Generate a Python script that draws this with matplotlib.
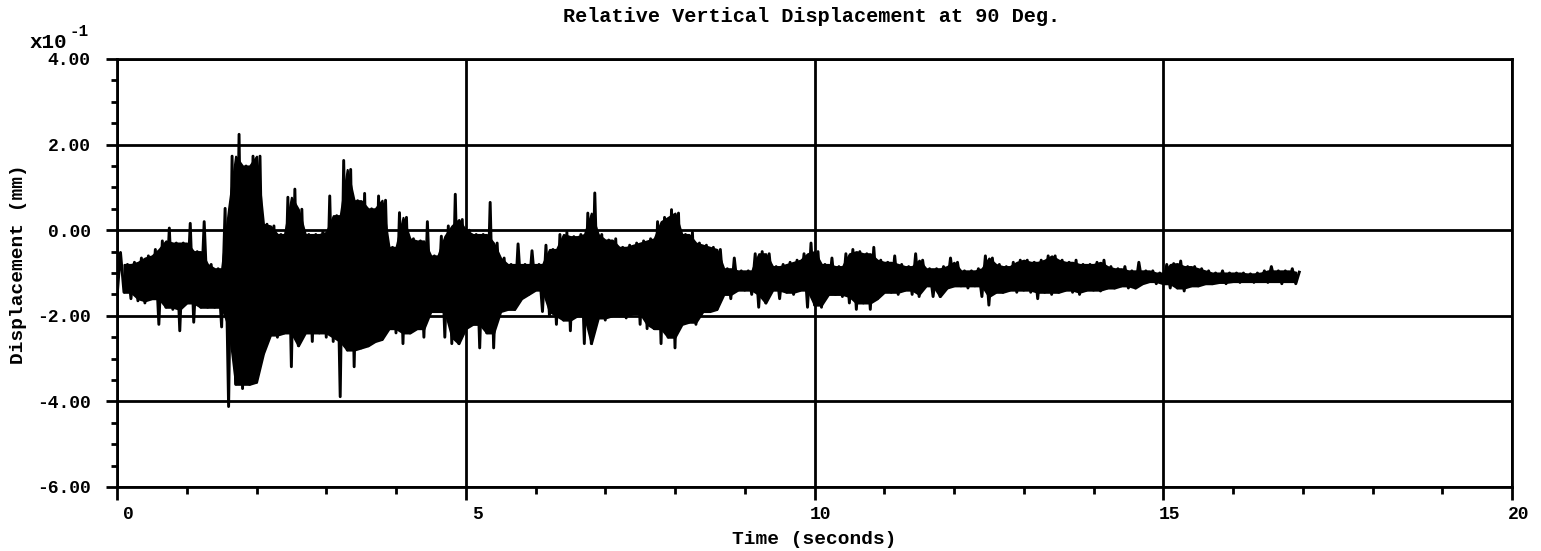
import numpy as np
import matplotlib
matplotlib.use("Agg")
import matplotlib.pyplot as plt
from matplotlib import transforms
from matplotlib.ticker import MultipleLocator, FormatStrFormatter

# ===== 字体与全局设置 =====
plt.rcParams.update({
    'font.family': ['Liberation Mono', 'DejaVu Sans Mono'],
    'font.weight': 'bold',
    'axes.unicode_minus': False,
})

# ===== 数据（读自原图，单位 x10^-1 mm）=====
# 每 0.1 s 一个窗口：trough 为窗口内最低值，peak 为窗口内最高值
dt = 0.1
peak = [
    -0.52, -0.80, -0.75, -0.65, -0.60, -0.45, -0.25, 0.05, -0.30, -0.30,   # 0 s
    0.16, -0.50, 0.20, -0.80, -0.90, 0.51, 1.73, 2.24, 1.50, 1.73,         # 1 s
    1.73, 0.14, 0.10, -0.10, 0.77, 0.96, 0.49, -0.10, -0.10, -0.05,        # 2 s
    0.80, 0.34, 1.63, 1.42, 0.69, 0.86, 0.50, 0.80, 0.70, -0.40,           # 3 s
    0.41, 0.30, -0.20, -0.25, 0.20, -0.60, -0.14, 0.10, 0.84, 0.25,        # 4 s
    0.00, -0.10, -0.10, 0.65, -0.30, -0.65, -0.80, -0.32, -0.80, -0.48,    # 5 s
    -0.80, -0.35, -0.45, -0.10, -0.05, -0.15, -0.10, 0.40, 0.87, -0.10,    # 6 s
    -0.23, -0.20, -0.40, -0.35, -0.30, -0.25, -0.20, 0.20, 0.30, 0.48,     # 7 s
    0.40, -0.10, -0.05, -0.30, -0.35, -0.40, -0.45, -0.90, -0.65, -0.95,   # 8 s
    -0.95, -0.55, -0.50, -0.55, -0.85, -0.80, -0.75, -0.70, -0.55, -0.30,  # 9 s
    -0.50, -0.80, -0.65, -0.85, -0.55, -0.45, -0.50, -0.55, -0.40, -0.70,  # 10 s
    -0.75, -0.60, -0.80, -0.85, -0.55, -0.70, -0.90, -0.90, -0.85, -0.65,  # 11 s
    -0.75, -0.95, -0.95, -0.90, -0.60, -0.65, -0.80, -0.85, -0.75, -0.70,  # 12 s
    -0.70, -0.75, -0.70, -0.60, -0.60, -0.70, -0.75, -0.70, -0.80, -0.80,  # 13 s
    -0.75, -0.70, -0.85, -0.90, -0.85, -0.95, -0.75, -0.95, -0.95, -1.00,  # 14 s
    -0.80, -0.78, -0.72, -0.85, -0.85, -0.90, -0.95, -1.00, -0.95, -1.00,  # 15 s
    -1.00, -1.00, -1.02, -1.00, -0.95, -0.85, -0.95, -0.95, -0.90, -0.98,  # 16 s
]
trough = [
    -1.56, -1.45, -1.60, -1.65, -1.70, -1.60, -2.20, -1.80, -1.85, -2.35,  # 0 s
    -1.70, -2.15, -1.80, -1.80, -1.80, -2.26, -4.12, -3.60, -3.70, -3.60,  # 1 s
    -3.55, -2.88, -2.45, -2.50, -2.40, -3.19, -2.70, -2.40, -2.60, -2.40,  # 2 s
    -2.50, -2.60, -3.89, -2.80, -3.19, -2.75, -2.70, -2.60, -2.55, -2.30,  # 3 s
    -2.40, -2.65, -2.40, -2.30, -2.50, -1.90, -1.90, -2.50, -2.65, -2.65,  # 4 s
    -2.30, -2.20, -2.75, -2.40, -2.75, -1.90, -1.85, -1.85, -1.60, -1.50,  # 5 s
    -1.40, -1.90, -2.00, -2.20, -2.10, -2.35, -2.00, -2.65, -2.65, -2.05,  # 6 s
    -2.10, -2.00, -2.00, -2.05, -1.95, -2.20, -2.30, -2.30, -2.65, -2.50,  # 7 s
    -2.75, -2.20, -2.15, -2.20, -1.90, -1.90, -1.85, -1.50, -1.60, -1.40,  # 8 s
    -1.40, -1.50, -1.80, -1.70, -1.40, -1.60, -1.45, -1.50, -1.40, -1.80,  # 9 s
    -1.75, -1.80, -1.50, -1.50, -1.55, -1.70, -1.85, -1.70, -1.85, -1.60,  # 10 s
    -1.45, -1.45, -1.50, -1.40, -1.50, -1.55, -1.30, -1.55, -1.55, -1.35,  # 11 s
    -1.30, -1.30, -1.35, -1.30, -1.55, -1.75, -1.45, -1.45, -1.40, -1.45,  # 12 s
    -1.40, -1.45, -1.60, -1.45, -1.50, -1.45, -1.40, -1.45, -1.50, -1.40,  # 13 s
    -1.40, -1.42, -1.35, -1.35, -1.30, -1.35, -1.35, -1.25, -1.20, -1.25,  # 14 s
    -1.25, -1.35, -1.35, -1.42, -1.30, -1.30, -1.25, -1.25, -1.22, -1.25,  # 15 s
    -1.20, -1.22, -1.20, -1.22, -1.20, -1.22, -1.20, -1.25, -1.20, -1.25,  # 16 s
]

title = "Relative Vertical Displacement at 90 Deg."
xlabel = "Time (seconds)"
ylabel = "Displacement (mm)"

# 谷值在窗口起点，峰值在窗口中点，交错成一条曲线
n = len(trough)
t_tr = np.arange(n) * dt
t_pk = t_tr + dt / 2
t = np.empty(2 * n)
y = np.empty(2 * n)
t[0::2], t[1::2] = t_tr, t_pk
y[0::2], y[1::2] = trough, peak

# 实心“主体”：相邻两个窗口中较低的峰、较高的谷
pk = np.array(peak)
tr = np.array(trough)
core_hi = np.minimum(pk[:-1], pk[1:])
core_lo = np.maximum(tr[:-1], tr[1:])
t_core = t_tr[1:]

# ===== 绘图 =====
W, H = 1541, 551
fig = plt.figure(figsize=(W / 100, H / 100), dpi=100)
ax = fig.add_axes([117 / W, 1 - 487 / H, (1512 - 117) / W, (487 - 59) / H])

ax.fill_between(t_core, core_lo, core_hi, color='black', lw=1.5)
ax.plot(t, y, color='black', lw=2.1)

ax.set_xlim(0, 20)
ax.set_ylim(-6, 4)
ax.xaxis.set_major_locator(MultipleLocator(5))
ax.xaxis.set_minor_locator(MultipleLocator(1))
ax.yaxis.set_major_locator(MultipleLocator(2))
ax.yaxis.set_minor_locator(MultipleLocator(0.5))
ax.yaxis.set_major_formatter(FormatStrFormatter('%.2f'))

ax.grid(True, which='major', color='black', lw=2.0)
for s in ax.spines.values():
    s.set_linewidth(2.0)

ax.tick_params(which='both', direction='out', width=2.0, labelsize=13)
ax.tick_params(axis='x', which='major', length=9, pad=5)
ax.tick_params(axis='x', which='minor', length=5)
ax.tick_params(axis='y', which='major', length=8, pad=11)
ax.tick_params(axis='y', which='minor', length=4)

# x 轴刻度标签：右对齐，整体右移
off = transforms.ScaledTranslation(17 / 100, 0, fig.dpi_scale_trans)
for lab in ax.get_xticklabels():
    lab.set_horizontalalignment('right')
    lab.set_transform(lab.get_transform() + off)

ax.set_xlabel(xlabel, fontsize=14, fontweight='bold')
ax.xaxis.set_label_coords(0.5, -0.103)
fig.text(19 / W, 1 - 264 / H, ylabel, rotation=90, ha='center', va='center',
         fontsize=14, fontweight='bold')

fig.text(812 / W, 1 - 17 / H, title, ha='center', va='center', fontsize=14.5, fontweight='bold')
fig.text(30 / W, 1 - 42 / H, "x10", ha='left', va='center', fontsize=15, fontweight='bold')
fig.text(69 / W, 1 - 31 / H, "-1", ha='left', va='center', fontsize=11.5, fontweight='bold')

fig.savefig("out.png", dpi=100)
